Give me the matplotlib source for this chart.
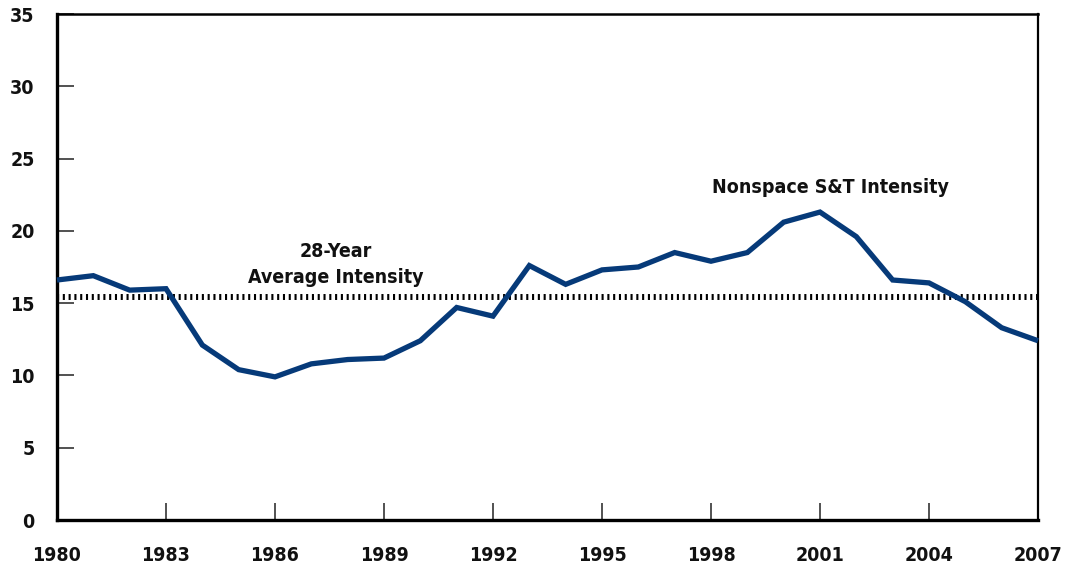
import matplotlib
matplotlib.use("Agg")
import matplotlib.pyplot as plt
import numpy as np

years = list(range(1980, 2008))
intensity = [16.6, 16.9, 15.9, 16.0, 12.1, 10.4, 9.9, 10.8, 11.1, 11.2,
             12.4, 14.7, 14.1, 17.6, 16.3, 17.3, 17.5, 18.5, 17.9, 18.5,
             20.6, 21.3, 19.6, 16.6, 16.4, 15.1, 13.3, 12.4]
x_ticks = [1980, 1983, 1986, 1989, 1992, 1995, 1998, 2001, 2004, 2007]
y_ticks = [0, 5, 10, 15, 20, 25, 30, 35]
avg = float(np.mean(intensity))

plt.rcParams['font.family'] = ['DejaVu Sans']
plt.rcParams['font.stretch'] = 'condensed'
fig = plt.figure(figsize=(10.66, 5.69), dpi=100)
ax = fig.add_axes([57/1066, 49/569, (1038-57)/1066, (520-14)/569])

ax.plot(years, intensity, color='#063a79', lw=3.8, solid_joinstyle='miter',
        solid_capstyle='butt', zorder=3, clip_on=False)
ax.axhline(avg, color='black', lw=4.3, dashes=(0.35, 0.62), zorder=2)

ax.set_xlim(1980, 2007)
ax.set_ylim(0, 35)
ax.set_xticks(x_ticks)
ax.set_yticks(y_ticks)
ax.tick_params(axis='both', direction='in', length=12, width=1.1, color='#222222',
               labelsize=14)
ax.tick_params(axis='x', pad=19)
ax.tick_params(axis='y', pad=16)
for lab in ax.get_xticklabels() + ax.get_yticklabels():
    lab.set_fontweight('bold')
    lab.set_fontstretch('condensed')
    lab.set_color('#111111')

ax.spines['left'].set_linewidth(2.4)
ax.spines['bottom'].set_linewidth(2.4)
ax.spines['top'].set_linewidth(1.8)
ax.spines['right'].set_linewidth(1.6)

ax.text(1987.68, 17.67, '28-Year\nAverage Intensity', ha='center', va='center',
        fontsize=14, fontweight='bold', fontstretch='condensed', linespacing=1.45,
        color='#111111')
ax.text(2001.28, 23.0, 'Nonspace S&T Intensity', ha='center', va='center',
        fontsize=14, fontweight='bold', fontstretch='condensed', color='#111111')

fig.savefig('out.png', dpi=100)
